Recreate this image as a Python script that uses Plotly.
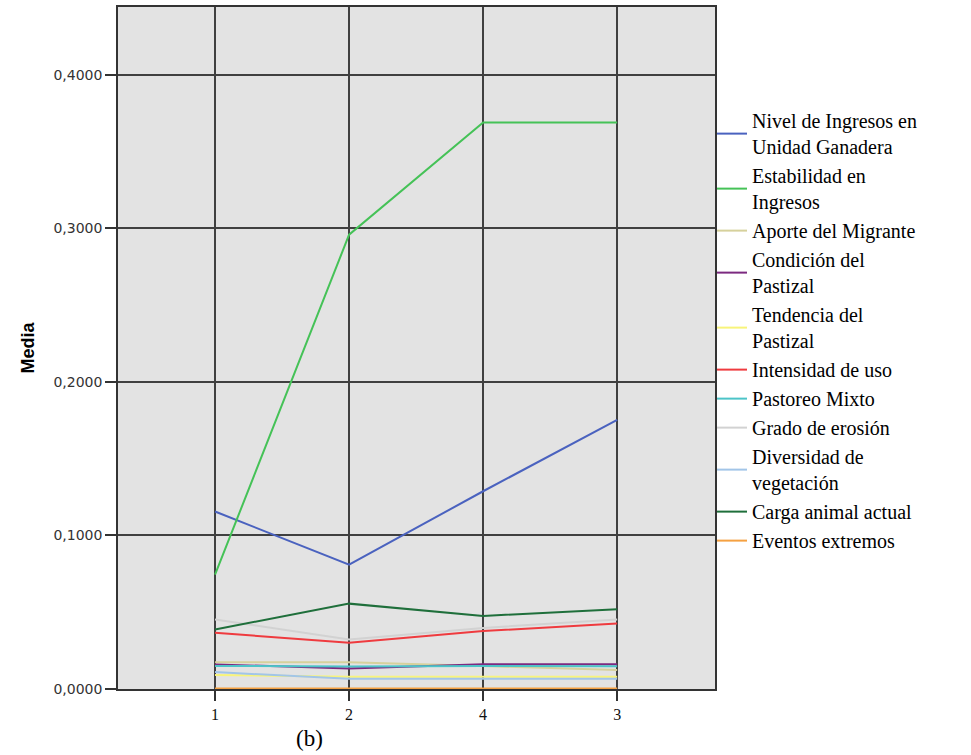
import plotly.graph_objects as go

categories = ["1", "2", "4", "3"]

series_names = [
    "Nivel de Ingresos en<br>Unidad Ganadera",
    "Estabilidad en<br>Ingresos",
    "Aporte del Migrante",
    "Condición del<br>Pastizal",
    "Tendencia del<br>Pastizal",
    "Intensidad de uso",
    "Pastoreo Mixto",
    "Grado de erosión",
    "Diversidad de<br>vegetación",
    "Carga animal actual",
    "Eventos extremos",
]

nivel_ingresos = [0.1156, 0.0810, 0.1288, 0.1753]
estabilidad = [0.0745, 0.2959, 0.3690, 0.3690]
aporte_migrante = [0.0175, 0.0175, 0.0149, 0.0123]
condicion_pastizal = [0.0160, 0.0134, 0.0162, 0.0162]
tendencia_pastizal = [0.0091, 0.0080, 0.0080, 0.0080]
intensidad_uso = [0.0366, 0.0301, 0.0377, 0.0426]
pastoreo_mixto = [0.0150, 0.0147, 0.0150, 0.0148]
grado_erosion = [0.0453, 0.0323, 0.0398, 0.0453]
diversidad_veg = [0.0110, 0.0067, 0.0067, 0.0067]
carga_animal = [0.0388, 0.0556, 0.0476, 0.0519]
eventos_extremos = [0.0004, 0.0004, 0.0004, 0.0004]

values = [nivel_ingresos, estabilidad, aporte_migrante, condicion_pastizal,
          tendencia_pastizal, intensidad_uso, pastoreo_mixto, grado_erosion,
          diversidad_veg, carga_animal, eventos_extremos]

colors = ["#4a62bf", "#45c257", "#d6d19c", "#7c2a80", "#f8f47a", "#ef3b3f",
          "#4cc4c8", "#d2d2d2", "#a2c5e8", "#1f6f3b", "#f5a142"]

y_ticks = [0, 0.1, 0.2, 0.3, 0.4]

fig = go.Figure()
for name, vals, col in zip(series_names, values, colors):
    fig.add_trace(go.Scatter(x=categories, y=vals, mode="lines", name=name,
                             line=dict(color=col, width=2)))

fig.update_layout(
    width=971, height=755,
    margin=dict(l=118, r=256, t=5, b=66),
    paper_bgcolor="white",
    plot_bgcolor="#e3e3e3",
    separators=",.",
    showlegend=True,
    legend=dict(x=0.995, xanchor="left", y=0.862, yanchor="top",
                font=dict(family="Liberation Serif", size=20, color="black"),
                bgcolor="rgba(0,0,0,0)", tracegroupgap=0, valign="middle"),
    annotations=[dict(text="(b)", x=0.32, y=-0.072, xref="paper", yref="paper",
                      xanchor="center", yanchor="middle", showarrow=False,
                      font=dict(family="Liberation Serif", size=23, color="black"))],
)

fig.update_xaxes(type="category", range=[-0.724, 3.73],
                 showgrid=True, gridcolor="#404040", gridwidth=1.5,
                 showline=True, mirror=True, linecolor="#333", linewidth=1.5,
                 ticks="outside", ticklen=10, tickcolor="#333", tickwidth=1.5,
                 tickfont=dict(family="Liberation Serif", size=16, color="#111"),
                 zeroline=False, layer="below traces")

fig.update_yaxes(range=[0, 0.4442], tickvals=y_ticks, tickformat=".4f",
                 showgrid=True, gridcolor="#404040", gridwidth=1.5,
                 showline=True, mirror=True, linecolor="#333", linewidth=1.5,
                 ticks="outside", ticklen=11, tickcolor="#333", tickwidth=1.5,
                 tickfont=dict(family="DejaVu Sans", size=14, color="#333"),
                 zeroline=False, layer="below traces",
                 title=dict(text="<b>Media</b>", standoff=14,
                            font=dict(family="Liberation Sans", size=18, color="black")))

fig.write_html("out.html", config={"displayModeBar": False},
               post_script="document.body.style.margin='0';")
